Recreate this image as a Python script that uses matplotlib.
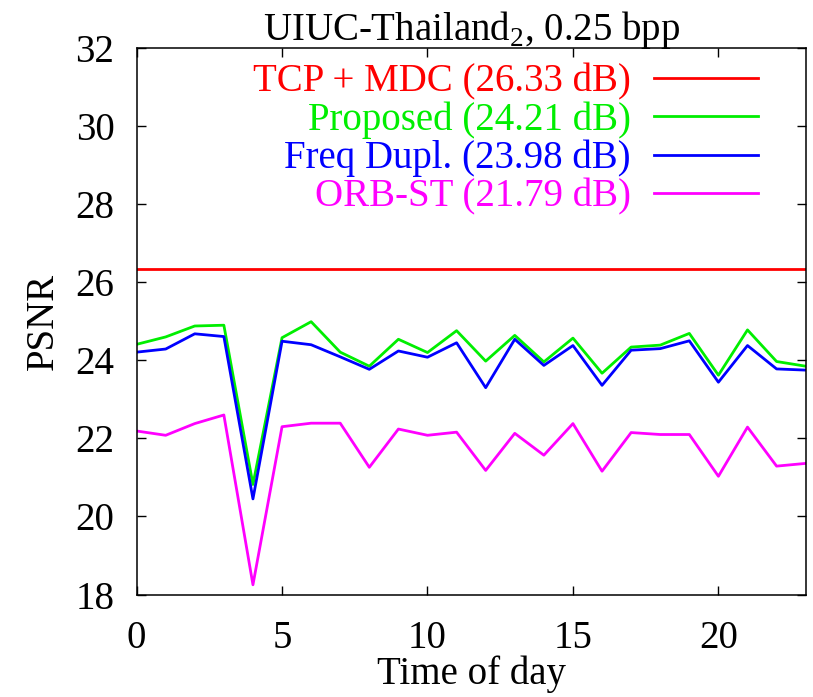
import numpy as np
import matplotlib
matplotlib.use('Agg')
from matplotlib import pyplot as plt

hours = list(range(24))

tcp_mdc = [26.33] * 24
proposed = [24.41, 24.60, 24.88, 24.90, 20.82, 24.58, 24.99, 24.21, 23.85, 24.54,
            24.20, 24.76, 23.98, 24.64, 23.96, 24.57, 23.67, 24.34, 24.39, 24.69,
            23.62, 24.78, 23.97, 23.85]
freq_dupl = [24.21, 24.29, 24.68, 24.61, 20.45, 24.49, 24.40, 24.09, 23.77, 24.24,
             24.08, 24.45, 23.30, 24.54, 23.87, 24.38, 23.36, 24.26, 24.30, 24.50,
             23.44, 24.38, 23.78, 23.75]
orb_st = [22.19, 22.08, 22.38, 22.60, 18.25, 22.30, 22.39, 22.39, 21.26, 22.24,
          22.08, 22.16, 21.18, 22.13, 21.57, 22.38, 21.16, 22.15, 22.10, 22.10,
          21.03, 22.29, 21.29, 21.36]

labels = ['TCP + MDC (26.33 dB)', 'Proposed (24.21 dB)',
          'Freq Dupl. (23.98 dB)', 'ORB-ST (21.79 dB)']
colors = ['#ff0000', '#00ee00', '#0000ff', '#ff00ff']

plt.rcParams['font.family'] = ['Liberation Serif', 'DejaVu Serif']
plt.rcParams['mathtext.fontset'] = 'custom'
plt.rcParams['mathtext.rm'] = 'Liberation Serif'
plt.rcParams['font.size'] = 28

fig = plt.figure(figsize=(8.13, 6.97), dpi=100)
ax = fig.add_axes([0.168, 0.147, 0.823, 0.784])

for ys, lab, col in zip([tcp_mdc, proposed, freq_dupl, orb_st], labels, colors):
    ax.plot(hours, ys, color=col, linewidth=2.0, label=lab)

ax.set_xlim(0, 23)
ax.set_ylim(18, 32)
ax.set_xticks([0, 5, 10, 15, 20])
ax.set_yticks(range(18, 33, 2))
ax.tick_params(direction='in', length=6.5, width=1, top=True, right=True)
ax.tick_params(axis='x', pad=18)
ax.tick_params(axis='y', pad=16)
for sp in ax.spines.values():
    sp.set_linewidth(1.1)

ax.set_xlabel('Time of day', labelpad=-1)
ax.set_ylabel('PSNR', labelpad=10)
ax.set_title('UIUC-Thailand$_\\mathrm{2}$, 0.25 bpp', fontsize=28, pad=6)

leg = ax.legend(loc='upper right', bbox_to_anchor=(0.928, 0.972),
                frameon=False, markerfirst=False, borderpad=0, borderaxespad=0,
                handlelength=2.65, handletextpad=0.6, labelspacing=0.025,
                labelcolor='linecolor')

fig.savefig('out.png', dpi=100)
